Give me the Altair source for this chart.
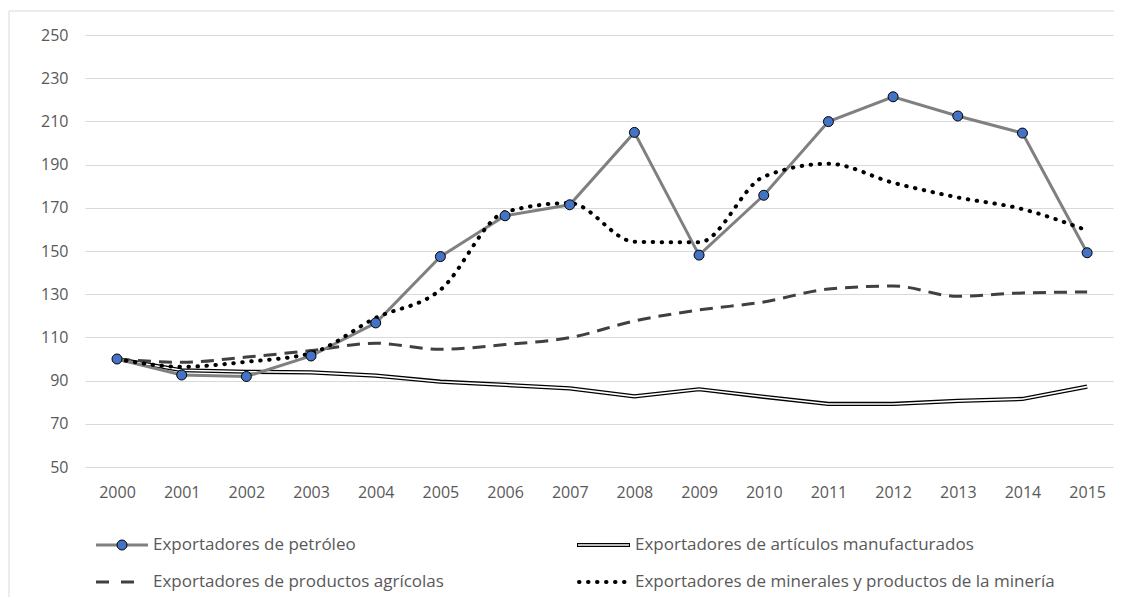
import altair as alt
import pandas as pd

years = list(range(2000, 2016))
petroleo = [100, 92.6, 91.9, 101.4, 116.7, 147.4, 166.3, 171.4, 204.9, 148.1, 175.8, 209.9, 221.4, 212.5, 204.6, 149.2]
manufacturados = [100, 94.8, 94.1, 93.8, 92.3, 89.5, 88.0, 86.4, 82.7, 86.0, 82.5, 79.2, 79.2, 80.6, 81.5, 87.2]
agricolas = [100, 98.5, 100.9, 103.9, 107.3, 104.5, 106.7, 109.9, 117.6, 122.7, 126.4, 132.4, 133.8, 129.0, 130.6, 131.0]
minerales = [100, 96.4, 98.7, 102.7, 119.0, 132.0, 168.0, 172.2, 154.3, 154.0, 184.4, 190.4, 181.6, 174.8, 169.4, 159.5]

labels = [
    "Exportadores de petróleo",
    "Exportadores de artículos manufacturados",
    "Exportadores de productos agrícolas",
    "Exportadores de minerales y productos de la minería",
]

df = pd.DataFrame({
    "year": years,
    "petroleo": petroleo,
    "manufacturados": manufacturados,
    "agricolas": agricolas,
    "minerales": minerales,
})

FONT = "Open Sans"
TXT = "#595959"
W, H = 1028, 432

xenc = alt.X("year:Q", scale=alt.Scale(domain=[1999.505, 2015.4], nice=False, zero=False),
             axis=alt.Axis(values=years, format="d", grid=False, domain=False, ticks=False,
                           labelPadding=17, labelFontSize=16, labelColor=TXT, labelFont=FONT,
                           title=None))
yscale = alt.Scale(domain=[50, 250], nice=False, zero=False)
yaxis = alt.Axis(values=list(range(50, 251, 20)), grid=True, gridColor="#d9d9d9",
                 gridWidth=1, domain=False, ticks=False, labelPadding=17,
                 labelFontSize=16, labelColor=TXT, labelFont=FONT, title=None)

def yenc(field):
    return alt.Y(f"{field}:Q", scale=yscale, axis=yaxis)

base = alt.Chart(df)

border = alt.Chart(pd.DataFrame({"a": [0]})).mark_rect(
    fill=None, stroke="#d9d9d9", strokeWidth=1
).encode(x=alt.value(-76), x2=alt.value(W + 20), y=alt.value(-24), y2=alt.value(H + 200))

man_outer = base.mark_line(color="black", strokeWidth=4.2).encode(x=xenc, y=yenc("manufacturados"))
man_inner = base.mark_line(color="white", strokeWidth=1.6).encode(x=xenc, y=yenc("manufacturados"))
agr = base.mark_line(color="#404040", strokeWidth=3, strokeDash=[13, 8], interpolate="monotone").encode(
    x=xenc, y=yenc("agricolas"))
pet_line = base.mark_line(color="#808080", strokeWidth=3).encode(x=xenc, y=yenc("petroleo"))
mine = base.mark_line(color="black", strokeWidth=4, strokeDash=[0.5, 8.5], strokeCap="round",
                      interpolate="monotone").encode(x=xenc, y=yenc("minerales"))
pet_pts = base.mark_point(shape="circle", filled=True, fill="#4472C4", stroke="black",
                          strokeWidth=1, size=100, opacity=1).encode(x=xenc, y=yenc("petroleo"))

# legend
one = pd.DataFrame({"a": [0]})
r1, r2 = 510, 547
c1, c2 = 11, 492
lg = []
lg.append(alt.Chart(one).mark_rule(color="#808080", strokeWidth=3).encode(
    x=alt.value(c1), x2=alt.value(c1 + 52), y=alt.value(r1)))
lg.append(alt.Chart(one).mark_point(shape="circle", filled=True, fill="#4472C4", stroke="black",
                                    strokeWidth=1, size=100, opacity=1).encode(
    x=alt.value(c1 + 26), y=alt.value(r1)))
lg.append(alt.Chart(one).mark_rule(color="black", strokeWidth=4.2).encode(
    x=alt.value(c2), x2=alt.value(c2 + 53), y=alt.value(r1)))
lg.append(alt.Chart(one).mark_rule(color="white", strokeWidth=1.6).encode(
    x=alt.value(c2 + 1), x2=alt.value(c2 + 52), y=alt.value(r1)))
lg.append(alt.Chart(one).mark_rule(color="#404040", strokeWidth=3, strokeDash=[13, 12]).encode(
    x=alt.value(c1), x2=alt.value(c1 + 40), y=alt.value(r2)))
lg.append(alt.Chart(one).mark_rule(color="black", strokeWidth=4, strokeDash=[0.5, 8.5],
                                   strokeCap="round").encode(
    x=alt.value(c2 + 2), x2=alt.value(c2 + 52), y=alt.value(r2)))
text_pos = [(c1 + 57, r1), (c2 + 58, r1), (c1 + 57, r2), (c2 + 58, r2)]
for lab, (tx, ty) in zip(labels, text_pos):
    lg.append(alt.Chart(pd.DataFrame({"t": [lab]})).mark_text(
        align="left", baseline="middle", font=FONT, fontSize=17, color=TXT
    ).encode(text="t:N", x=alt.value(tx), y=alt.value(ty)))

chart = alt.layer(border, man_outer, man_inner, agr, pet_line, mine, pet_pts, *lg).properties(
    width=W, height=H,
    background="white",
    padding={"left": 77, "top": 27, "right": 1, "bottom": 130},
    autosize=alt.AutoSizeParams(type="none"),
).configure_view(strokeWidth=0, stroke=None)

chart.save("out.html", embed_options={"renderer": "svg", "actions": False})
